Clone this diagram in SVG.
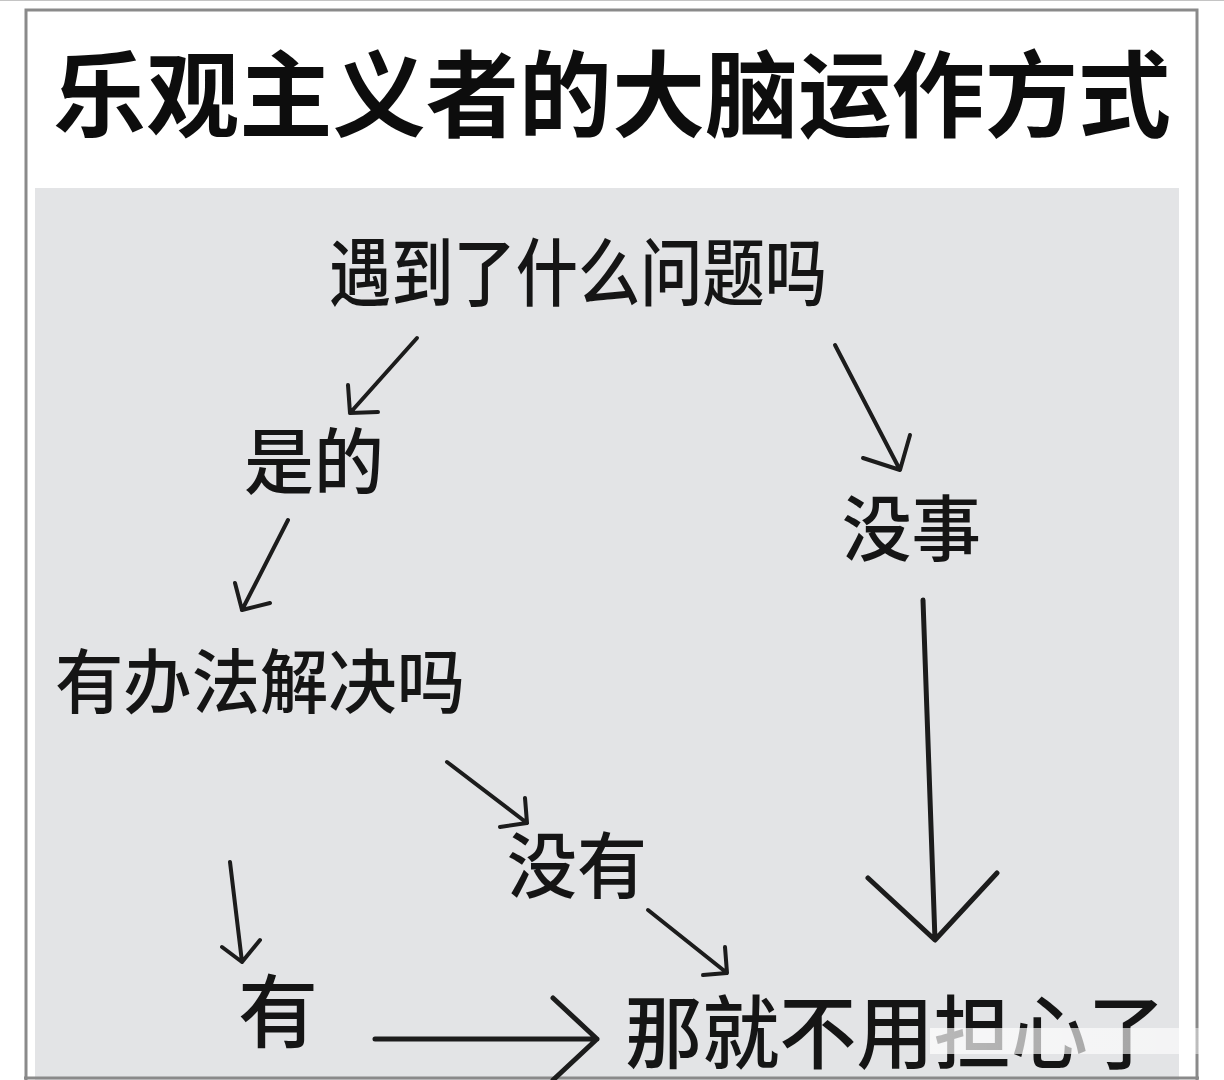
<svg xmlns="http://www.w3.org/2000/svg" width="1224" height="1080" viewBox="0 0 1224 1080">
  <defs>
    <style>
      .t { font-family: "Noto Sans CJK SC", "Noto Sans CJK TC", sans-serif; font-weight: 500; fill: #151515; }
      .title { font-weight: 700; fill: #0d0d0d; }
      .arr { fill: none; stroke: #1c1c1c; stroke-width: 4; stroke-linecap: round; stroke-linejoin: round; }
      .arr.big { stroke-width: 5; }
    </style>
    <linearGradient id="wm" x1="0" y1="0" x2="1" y2="0">
      <stop offset="0" stop-color="#ffffff" stop-opacity="0.7"/>
      <stop offset="0.9" stop-color="#ffffff" stop-opacity="0.6"/>
      <stop offset="1" stop-color="#ffffff" stop-opacity="0.25"/>
    </linearGradient>
  </defs>

  <!-- background and frame -->
  <rect x="0" y="0" width="1224" height="1080" fill="#ffffff"/>
  <line x1="0" y1="0.5" x2="1224" y2="0.5" stroke="#c4c4c4" stroke-width="1"/>
  <rect x="26" y="10" width="1171" height="1080" fill="#ffffff" stroke="#8a8a8a" stroke-width="3"/>
  <rect x="35" y="188" width="1144" height="892" fill="#e3e4e6"/>
  <line x1="24" y1="1078" x2="1199" y2="1078" stroke="#8a8a8a" stroke-width="3"/>

  <g id="title">
    <text class="t title" x="53" y="130" font-size="94" textLength="1118" lengthAdjust="spacingAndGlyphs">乐观主义者的大脑运作方式</text>
  </g>

  <g id="node-question">
    <text class="t" x="329" y="300" font-size="74" textLength="498" lengthAdjust="spacingAndGlyphs">遇到了什么问题吗</text>
  </g>
  <g id="node-yes">
    <text class="t" x="244" y="488" font-size="72" textLength="140" lengthAdjust="spacingAndGlyphs">是的</text>
  </g>
  <g id="node-fine">
    <text class="t" x="842" y="555" font-size="72" textLength="139" lengthAdjust="spacingAndGlyphs">没事</text>
  </g>
  <g id="node-solvable">
    <text class="t" x="55" y="708" font-size="70" textLength="410" lengthAdjust="spacingAndGlyphs">有办法解决吗</text>
  </g>
  <g id="node-no">
    <text class="t" x="507" y="892" font-size="72" textLength="140" lengthAdjust="spacingAndGlyphs">没有</text>
  </g>
  <g id="node-have">
    <text class="t" x="238" y="1041" font-size="80">有</text>
  </g>
  <g id="node-noworry">
    <text class="t" x="625" y="1062" font-size="80" textLength="540" lengthAdjust="spacingAndGlyphs">那就不用担心了</text>
  </g>

  <g id="connectors">
    <path class="arr" d="M417 338 L350 413 M348 385 L350 413 L378 412"/>
    <path class="arr" d="M288 520 L242 610 M235 583 L242 610 L270 603"/>
    <path class="arr" d="M835 345 L900 470 M863 458 L900 470 L910 435"/>
    <path class="arr" d="M447 762 L527 823 M500 827 L527 823 L525 798"/>
    <path class="arr" d="M648 910 L727 973 M703 975 L727 973 L725 947"/>
    <path class="arr" d="M230 862 L242 962 M222 947 L242 962 L260 940"/>
    <path class="arr big" d="M375 1039 L597 1039 M553 998 L597 1039 L553 1080"/>
    <path class="arr big" d="M923 600 L935 940 M868 878 L935 940 L997 873"/>
  </g>

  <!-- watermark smear over the bottom line -->
  <rect x="930" y="1028" width="282" height="26" fill="url(#wm)"/>
</svg>
